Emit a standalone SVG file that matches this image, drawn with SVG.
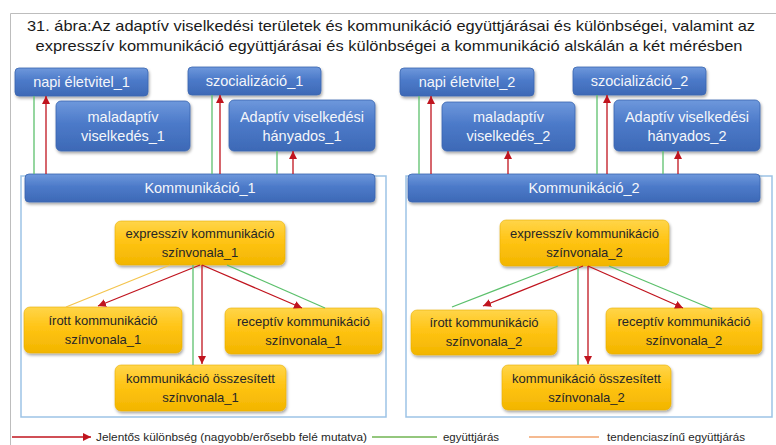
<svg xmlns="http://www.w3.org/2000/svg" width="776" height="445" viewBox="0 0 776 445">
  <defs>
    <linearGradient id="gBlue" x1="0" y1="0" x2="0" y2="1">
      <stop offset="0" stop-color="#6E98DC"/>
      <stop offset="0.45" stop-color="#4C7AC9"/>
      <stop offset="1" stop-color="#3D69B6"/>
    </linearGradient>
    <linearGradient id="gYellow" x1="0" y1="0" x2="0" y2="1">
      <stop offset="0" stop-color="#FFD54A"/>
      <stop offset="0.45" stop-color="#FFC414"/>
      <stop offset="1" stop-color="#F2B500"/>
    </linearGradient>
    <filter id="shadow" x="-10%" y="-20%" width="125%" height="160%">
      <feDropShadow dx="1" dy="2" stdDeviation="1.4" flood-color="#000" flood-opacity="0.35"/>
    </filter>
    <marker id="arrowRed" viewBox="0 0 10 10" refX="10" refY="5" markerWidth="8" markerHeight="8" markerUnits="userSpaceOnUse" orient="auto">
      <path d="M0,0 L10,5 L0,10 z" fill="#C0141E"/>
    </marker>
  </defs>
  <style>
    .blue { fill: url(#gBlue); stroke: #3A66B0; stroke-width: 0.8; filter: url(#shadow); }
    .yellow { fill: url(#gYellow); stroke: #E8AE00; stroke-width: 0.6; filter: url(#shadow); }
    .frame { fill: none; stroke: #9DC3E6; stroke-width: 1.5; }
    .tb { font-family: "Liberation Sans", "DejaVu Sans", sans-serif; font-size: 14.5px; fill: #F4F6FA; text-anchor: middle; }
    .ty { font-family: "Liberation Sans", "DejaVu Sans", sans-serif; font-size: 13px; fill: #262626; text-anchor: middle; }
    .title { font-family: "Liberation Sans", "DejaVu Sans", sans-serif; font-size: 14.5px; fill: #1A1A1A; text-anchor: middle; }
    .leg { font-family: "Liberation Sans", "DejaVu Sans", sans-serif; font-size: 11px; fill: #262626; }
    .red { stroke: #C0141E; stroke-width: 1.3; fill: none; marker-end: url(#arrowRed); }
    .green { stroke: #5CC06C; stroke-width: 1.3; fill: none; }
    .orange { stroke: #F4C44E; stroke-width: 1.3; fill: none; }
    .orangeLeg { stroke: #F2A36C; stroke-width: 1.3; fill: none; }
  </style>

  <rect width="776" height="445" fill="#FFFFFF"/>
  <!-- outer border -->
  <path d="M10.5,445 V13.5 H776" fill="none" stroke="#BDBDBD" stroke-width="1"/>

  <!-- title -->
  <text class="title" x="391" y="31" textLength="728" lengthAdjust="spacingAndGlyphs">31. ábra:Az adaptív viselkedési területek és kommunikáció együttjárásai és különbségei, valamint az</text>
  <text class="title" x="389" y="51" textLength="707" lengthAdjust="spacingAndGlyphs">expresszív kommunikáció együttjárásai és különbségei a kommunikáció alskálán a két mérésben</text>

  <!-- communication subscale frames -->
  <rect class="frame" x="21" y="176" width="365" height="241"/>
  <rect class="frame" x="406" y="176" width="366" height="241"/>

  <!-- measurement 1 -->
  <g id="napi_eletvitel_1">
    <rect class="blue" x="15" y="68" width="133" height="28" rx="4"/>
    <text class="tb" x="81.5" y="87">napi életvitel_1</text>
  </g>
  <g id="szocializacio_1">
    <rect class="blue" x="188" y="67" width="133" height="28" rx="4"/>
    <text class="tb" x="254.5" y="86">szocializáció_1</text>
  </g>
  <g id="maladaptiv_1">
    <rect class="blue" x="56" y="101" width="134" height="50" rx="5"/>
    <text class="tb" x="123" y="122">maladaptív</text>
    <text class="tb" x="123" y="141">viselkedés_1</text>
  </g>
  <g id="adaptiv_hanyados_1">
    <rect class="blue" x="229" y="100" width="146" height="51" rx="5"/>
    <text class="tb" x="302" y="122">Adaptív viselkedési</text>
    <text class="tb" x="302" y="141">hányados_1</text>
  </g>
  <g id="kommunikacio_1">
    <rect class="blue" x="25" y="174" width="350" height="28" rx="4"/>
    <text class="tb" x="200" y="193">Kommunikáció_1</text>
  </g>
  <g id="expressziv_1">
    <rect class="yellow" x="115" y="221" width="170" height="44" rx="6"/>
    <text class="ty" x="200" y="238">expresszív kommunikáció</text>
    <text class="ty" x="200" y="257">színvonala_1</text>
  </g>
  <g id="irott_1">
    <rect class="yellow" x="24" y="307" width="158" height="46" rx="6"/>
    <text class="ty" x="103" y="325">írott kommunikáció</text>
    <text class="ty" x="103" y="344">színvonala_1</text>
  </g>
  <g id="receptiv_1">
    <rect class="yellow" x="225" y="308" width="157" height="46" rx="6"/>
    <text class="ty" x="303.5" y="326">receptív kommunikáció</text>
    <text class="ty" x="303.5" y="345">színvonala_1</text>
  </g>
  <g id="osszesitett_1">
    <rect class="yellow" x="115" y="365" width="171" height="46" rx="6"/>
    <text class="ty" x="200.5" y="383">kommunikáció összesített</text>
    <text class="ty" x="200.5" y="402">színvonala_1</text>
  </g>

  <!-- measurement 2 -->
  <g id="napi_eletvitel_2">
    <rect class="blue" x="400" y="68" width="134" height="28" rx="4"/>
    <text class="tb" x="467" y="87">napi életvitel_2</text>
  </g>
  <g id="szocializacio_2">
    <rect class="blue" x="573" y="67" width="133" height="28" rx="4"/>
    <text class="tb" x="639.5" y="86">szocializáció_2</text>
  </g>
  <g id="maladaptiv_2">
    <rect class="blue" x="442" y="102" width="133" height="49" rx="5"/>
    <text class="tb" x="508.5" y="122">maladaptív</text>
    <text class="tb" x="508.5" y="141">viselkedés_2</text>
  </g>
  <g id="adaptiv_hanyados_2">
    <rect class="blue" x="614" y="100" width="146" height="51" rx="5"/>
    <text class="tb" x="687" y="122">Adaptív viselkedési</text>
    <text class="tb" x="687" y="141">hányados_2</text>
  </g>
  <g id="kommunikacio_2">
    <rect class="blue" x="408" y="174" width="352" height="28" rx="4"/>
    <text class="tb" x="584" y="193">Kommunikáció_2</text>
  </g>
  <g id="expressziv_2">
    <rect class="yellow" x="500" y="220" width="169" height="46" rx="6"/>
    <text class="ty" x="584.5" y="238">expresszív kommunikáció</text>
    <text class="ty" x="584.5" y="257">színvonala_2</text>
  </g>
  <g id="irott_2">
    <rect class="yellow" x="411" y="310" width="146" height="45" rx="6"/>
    <text class="ty" x="484" y="327">írott kommunikáció</text>
    <text class="ty" x="484" y="346">színvonala_2</text>
  </g>
  <g id="receptiv_2">
    <rect class="yellow" x="606" y="308" width="156" height="46" rx="6"/>
    <text class="ty" x="684" y="326">receptív kommunikáció</text>
    <text class="ty" x="684" y="345">színvonala_2</text>
  </g>
  <g id="osszesitett_2">
    <rect class="yellow" x="502" y="365" width="169" height="45" rx="6"/>
    <text class="ty" x="586.5" y="383">kommunikáció összesített</text>
    <text class="ty" x="586.5" y="402">színvonala_2</text>
  </g>

  <!-- connectors -->
  <g id="connectors">
    <!-- measurement 1: adaptive domains -->
    <line class="green" x1="34" y1="96" x2="34" y2="174"/>
    <line class="red" x1="46" y1="174" x2="46" y2="96"/>
    <line class="green" x1="212" y1="95" x2="212" y2="174"/>
    <line class="red" x1="220" y1="174" x2="220" y2="95"/>
    <line class="green" x1="277" y1="151" x2="277" y2="174"/>
    <line class="red" x1="293" y1="174" x2="293" y2="151"/>
    <!-- measurement 1: expressive communication -->
    <line class="orange" x1="170" y1="265" x2="66" y2="307"/>
    <line class="red" x1="200" y1="265" x2="98" y2="306"/>
    <line class="green" x1="193" y1="265" x2="193" y2="365"/>
    <line class="red" x1="202" y1="265" x2="202" y2="364"/>
    <line class="red" x1="202" y1="265" x2="302" y2="308"/>
    <line class="green" x1="227" y1="265" x2="325" y2="308"/>

    <!-- measurement 2: adaptive domains -->
    <line class="green" x1="419" y1="96" x2="419" y2="174"/>
    <line class="red" x1="431" y1="174" x2="431" y2="96"/>
    <line class="red" x1="508" y1="174" x2="508" y2="151"/>
    <line class="green" x1="597" y1="95" x2="597" y2="174"/>
    <line class="red" x1="607" y1="174" x2="607" y2="95"/>
    <line class="green" x1="663" y1="151" x2="663" y2="174"/>
    <line class="red" x1="678" y1="174" x2="678" y2="151"/>
    <!-- measurement 2: expressive communication -->
    <line class="green" x1="558" y1="266" x2="452" y2="307"/>
    <line class="red" x1="583" y1="266" x2="483" y2="306"/>
    <line class="green" x1="578" y1="266" x2="578" y2="365"/>
    <line class="red" x1="588" y1="266" x2="588" y2="364"/>
    <line class="red" x1="588" y1="266" x2="683" y2="308"/>
    <line class="green" x1="609" y1="266" x2="712" y2="309"/>
  </g>

  <!-- legend -->
  <g id="legend">
    <line class="red" x1="12" y1="437" x2="91" y2="437"/>
    <text class="leg" x="96" y="441" textLength="271" lengthAdjust="spacingAndGlyphs">Jelentős különbség (nagyobb/erősebb felé mutatva)</text>
    <line x1="372" y1="437" x2="437" y2="437" stroke="#70B552" stroke-width="1.3"/>
    <text class="leg" x="443" y="441" textLength="56" lengthAdjust="spacingAndGlyphs">együttjárás</text>
    <line class="orangeLeg" x1="529" y1="437" x2="599" y2="437"/>
    <text class="leg" x="607" y="441" textLength="138" lengthAdjust="spacingAndGlyphs">tendenciaszínű együttjárás</text>
  </g>
</svg>
